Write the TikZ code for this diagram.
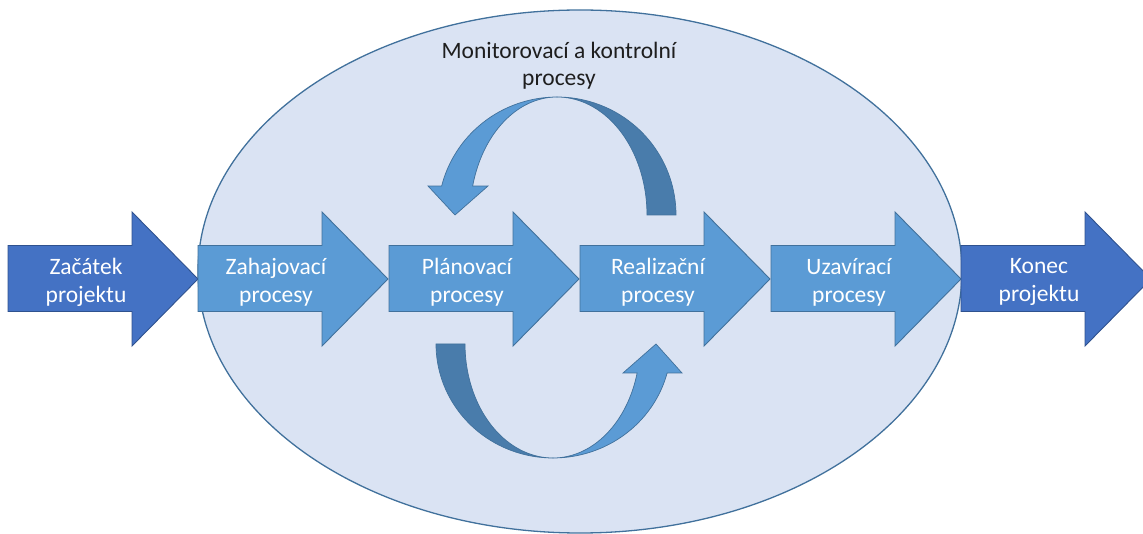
\documentclass[tikz,border=0pt]{standalone}
\usepackage{fontspec}
\setmainfont{Carlito}

\definecolor{ovalfill}{HTML}{DAE3F3}
\definecolor{ovalline}{HTML}{41719C}
\definecolor{darkarrow}{HTML}{4472C4}
\definecolor{darkedge}{HTML}{2F528F}
\definecolor{lightarrow}{HTML}{5B9BD5}
\definecolor{lightedge}{HTML}{41719C}
\definecolor{backface}{HTML}{497CAB}
\definecolor{labeltext}{HTML}{1E1E1E}

\tikzset{
  oval/.style={fill=ovalfill, draw=ovalline, line width=1.3pt},
  endarrow/.style={fill=darkarrow, draw=darkedge, line width=0.9pt, line join=miter},
  procarrow/.style={fill=lightarrow, draw=lightedge, line width=0.9pt, line join=miter},
  loopfront/.style={fill=lightarrow, draw=lightedge, line width=0.7pt, line join=miter},
  loopback/.style={fill=backface, draw=lightedge, line width=0.7pt, line join=miter},
  arrowlabel/.style={text=white, align=center, inner sep=0pt,
    font=\fontsize{23.5}{28}\selectfont},
  toplabel/.style={text=labeltext, align=center, inner sep=0pt,
    font=\fontsize{23.5}{27}\selectfont},
}

% block arrow: #1 style, #2 left x, #3 node name, #4 label
\newcommand\blockarrow[4]{%
  \draw[#1] (#2,245.5) -- ({#2+124},245.5) -- ({#2+124},212)
    -- ({#2+190},279) -- ({#2+124},346) -- ({#2+124},311.5)
    -- (#2,311.5) -- cycle;
  \node[arrowlabel] (#3) at ({#2+78},282) {#4};
}

\begin{document}
\begin{tikzpicture}[x=1pt,y=-1pt]
  \clip (0,0) rectangle (1143,534);

  % process group oval
  \draw[oval] (580,271.5) ellipse [x radius=382pt, y radius=261.5pt];
  \node[toplabel] (monitor) at (559,66) {Monitorovací a kontrolní\\procesy};

  % upper loop arrow: back face (right) and front face with head (left)
  \draw[loopback]
    plot[domain=-90:0, samples=40, variable=\t] ({557+119*cos(\t)},{215+118*sin(\t)})
    -- plot[domain=0:-90, samples=40, variable=\t] ({557+90*cos(\t)},{215+118*sin(\t)})
    -- cycle;
  \draw[loopfront]
    plot[domain=-90:-165.8, samples=40, variable=\t] ({557+119*cos(\t)},{215+118*sin(\t)})
    -- (428,186) -- (455,215) -- (488,186)
    -- plot[domain=-165.8:-90, samples=40, variable=\t] ({557+87*cos(\t)},{215+118*sin(\t)})
    -- cycle;

  % lower loop arrow: back face (left) and front face with head (right)
  \draw[loopback]
    plot[domain=90:180, samples=40, variable=\t] ({553+117*cos(\t)},{344+114*sin(\t)})
    -- plot[domain=180:90, samples=40, variable=\t] ({553+88*cos(\t)},{344+114*sin(\t)})
    -- cycle;
  \draw[loopfront]
    plot[domain=90:14.7, samples=40, variable=\t] ({553+118*cos(\t)},{344+114*sin(\t)})
    -- (682,373) -- (656,344) -- (623,373)
    -- plot[domain=14.7:90, samples=40, variable=\t] ({553+87*cos(\t)},{344+114*sin(\t)})
    -- cycle;

  % process chain
  \blockarrow{endarrow}{8}{start}{Začátek\\projektu}
  \blockarrow{procarrow}{198}{init}{Zahajovací\\procesy}
  \blockarrow{procarrow}{389}{plan}{Plánovací\\procesy}
  \blockarrow{procarrow}{580}{exec}{Realizační\\procesy}
  \blockarrow{procarrow}{771}{close}{Uzavírací\\procesy}
  \blockarrow{endarrow}{961}{finish}{Konec\\projektu}
\end{tikzpicture}
\end{document}
